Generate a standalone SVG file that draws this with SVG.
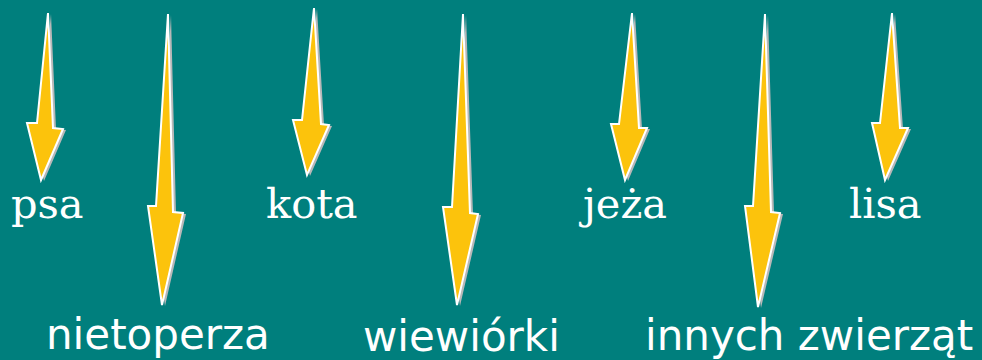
<svg xmlns="http://www.w3.org/2000/svg" width="982" height="360" viewBox="0 0 982 360">
<style>
.bg{fill:#007F7D}
.arr{fill:#FCC30C;stroke:#FFFFFF;stroke-width:2;stroke-linejoin:miter}
.sh{fill:#B8B8B8}
.top{font-family:"DejaVu Serif","Liberation Serif",serif;font-size:41.5px;fill:#FFFFFF}
.bot{font-family:"DejaVu Sans","Liberation Sans",sans-serif;font-size:42px;fill:#FFFFFF}
</style>
<rect class="bg" x="0" y="0" width="982" height="360"/>
<g id="connectors">
<g id="arrow-psa">
<polygon class="sh" transform="translate(3,1)" points="48,13 53,128 63,129 41,180 27,123 37,123"/>
<polygon class="arr" points="48,13 53,128 63,129 41,180 27,123 37,123"/>
</g>
<g id="arrow-nietoperza">
<polygon class="sh" transform="translate(3,1)" points="168,14 173,212 183,213 162,305 148,206 156,206"/>
<polygon class="arr" points="168,14 173,212 183,213 162,305 148,206 156,206"/>
</g>
<g id="arrow-kota">
<polygon class="sh" transform="translate(3,1)" points="314,8 321,124 329,125 307,175 293,120 302,120"/>
<polygon class="arr" points="314,8 321,124 329,125 307,175 293,120 302,120"/>
</g>
<g id="arrow-wiewiorki">
<polygon class="sh" transform="translate(3,1)" points="463,14 470,213 478,214 457,305 443,207 452,207"/>
<polygon class="arr" points="463,14 470,213 478,214 457,305 443,207 452,207"/>
</g>
<g id="arrow-jeza">
<polygon class="sh" transform="translate(3,1)" points="632,13 639,128 647,128 625,180 611,124 619,124"/>
<polygon class="arr" points="632,13 639,128 647,128 625,180 611,124 619,124"/>
</g>
<g id="arrow-innych">
<polygon class="sh" transform="translate(3,1)" points="765,14 771,212 780,213 758,307 745,206 753,206"/>
<polygon class="arr" points="765,14 771,212 780,213 758,307 745,206 753,206"/>
</g>
<g id="arrow-lisa">
<polygon class="sh" transform="translate(3,1)" points="892,13 900,128 908,128 885,180 872,123 880,123"/>
<polygon class="arr" points="892,13 900,128 908,128 885,180 872,123 880,123"/>
</g>
</g>
<g id="node-psa"><text class="top" x="11" y="218">psa</text></g>
<g id="node-kota"><text class="top" x="266" y="218">kota</text></g>
<g id="node-jeza"><text class="top" x="583" y="218">jeża</text></g>
<g id="node-lisa"><text class="top" x="849" y="218">lisa</text></g>
<g id="node-nietoperza"><text class="bot" x="46" y="349">nietoperza</text></g>
<g id="node-wiewiorki"><text class="bot" x="363" y="351">wiewiórki</text></g>
<g id="node-innych"><text class="bot" x="645" y="350">innych zwierząt</text></g>
</svg>
